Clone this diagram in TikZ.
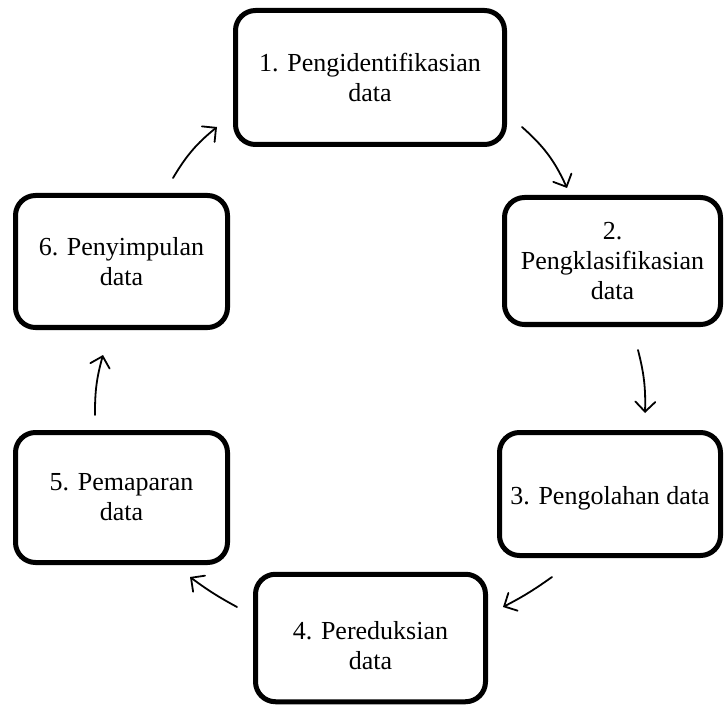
\documentclass[tikz,border=0pt]{standalone}
\usepackage{fontspec}
\setmainfont{Liberation Serif}
\usetikzlibrary{arrows.meta}
\begin{document}
\begin{tikzpicture}[x=1pt,y=-1pt,
  box/.style={draw, line width=5pt, rounded corners=20pt, align=center,
    font=\fontsize{26}{30}\selectfont, inner sep=0pt},
  flow/.style={line width=1.8pt, line cap=round,
    -{Straight Barb[length=10pt,width=20pt,line cap=round]}}]
\useasboundingbox (0,0) rectangle (724,706);
\clip (0,0) rectangle (724,706);
\node[box, minimum width=269pt, minimum height=134pt] (n1) at (370,77.5) {1. Pengidentifikasian\\data};
\node[box, minimum width=216pt, minimum height=127pt] (n2) at (612.5,261) {2.\\Pengklasifikasian\\data};
\node[box, minimum width=221pt, minimum height=123pt] (n3) at (610,494) {\raisebox{-4pt}[\height][\depth]{3. Pengolahan data}};
\node[box, minimum width=230pt, minimum height=127.5pt] (n4) at (370.5,638) {\raisebox{-10pt}[\height][\depth]{\begin{tabular}{@{}c@{}}4. Pereduksian\\data\end{tabular}}};
\node[box, minimum width=212pt, minimum height=130pt] (n5) at (121.5,497.5) {5. Pemaparan\\data};
\node[box, minimum width=212pt, minimum height=132pt] (n6) at (121.5,261.5) {6. Penyimpulan\\data};
\coordinate (a1s) at (173,178); \coordinate (a1e) at (217,127);
\coordinate (a2s) at (522,127); \coordinate (a2e) at (567,188);
\coordinate (a3s) at (638,350); \coordinate (a3e) at (645,413);
\coordinate (a4s) at (552,577); \coordinate (a4e) at (503,607);
\coordinate (a5s) at (237,607); \coordinate (a5e) at (190,577);
\coordinate (a6s) at (95,415);  \coordinate (a6e) at (103,355);
\draw[flow] (a1s) to[bend left=10] (a1e);
\draw[flow] (a2s) to[bend left=12] (a2e);
\draw[flow] (a3s) to[bend left=8] (a3e);
\draw[flow] (a4s) to[bend left=4] (a4e);
\draw[flow] (a5s) to[bend left=4] (a5e);
\draw[flow] (a6s) to[bend left=8] (a6e);
\end{tikzpicture}
\end{document}
